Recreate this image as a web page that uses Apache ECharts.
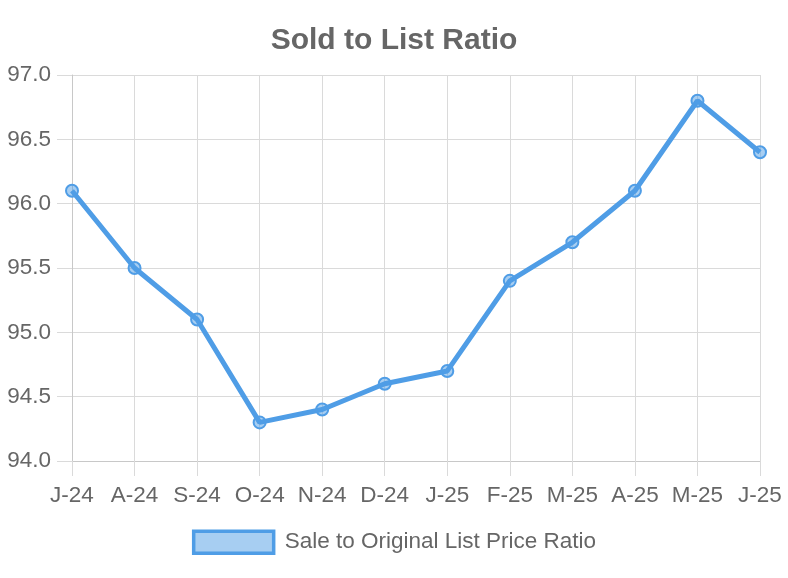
<!DOCTYPE html>
<html>
<head>
<meta charset="utf-8">
<script src="https://cdn.jsdelivr.net/npm/echarts@6/dist/echarts.min.js"></script>
<style>
  html, body { margin: 0; padding: 0; background: #fff; }
  #chart { width: 788px; height: 578px; }
</style>
</head>
<body>
<div id="chart"></div>
<script>
const months = ['J-24', 'A-24', 'S-24', 'O-24', 'N-24', 'D-24', 'J-25', 'F-25', 'M-25', 'A-25', 'M-25', 'J-25'];
const ratio = [96.1, 95.5, 95.1, 94.3, 94.4, 94.6, 94.7, 95.4, 95.7, 96.1, 96.8, 96.4];
const seriesName = 'Sale to Original List Price Ratio';

const lineColor = '#4f9de6';
const font = 'Arial, "Liberation Sans", sans-serif';

const chart = echarts.init(document.getElementById('chart'));

chart.setOption({
  animation: false,
  title: {
    text: 'Sold to List Ratio',
    left: 'center',
    top: 21,
    textStyle: { fontFamily: font, fontSize: 30, fontWeight: 'bold', color: '#666' }
  },
  legend: {
    bottom: 18,
    left: 'center',
    icon: 'rect',
    itemWidth: 80,
    itemHeight: 22,
    itemGap: 10,
    data: [seriesName],
    itemStyle: { color: 'rgba(79,157,230,0.5)', borderColor: lineColor, borderWidth: 3.5 },
    textStyle: { fontFamily: font, fontSize: 22.5, color: '#666', padding: [0, 0, 0, 6] }
  },
  grid: {
    left: 72,
    right: 28,
    top: 75,
    bottom: 117
  },
  xAxis: {
    type: 'category',
    data: months,
    boundaryGap: false,
    axisLine: { lineStyle: { color: '#c8c8c8' } },
    axisTick: { show: true, length: 15, lineStyle: { color: '#dadada' } },
    splitLine: { show: true, lineStyle: { color: '#dadada' } },
    axisLabel: { interval: 0, margin: 23, fontFamily: font, fontSize: 22.5, color: '#666' }
  },
  yAxis: {
    type: 'value',
    min: 94,
    max: 97,
    interval: 0.5,
    axisLine: { show: true, lineStyle: { color: '#c8c8c8' } },
    axisTick: { show: true, length: 15, lineStyle: { color: '#dadada' } },
    splitLine: { lineStyle: { color: '#dadada' } },
    axisLabel: {
      margin: 21,
      fontFamily: font,
      fontSize: 22.5,
      color: '#666',
      formatter: v => v.toFixed(1)
    }
  },
  series: [
    {
      name: seriesName,
      type: 'line',
      data: ratio,
      symbol: 'circle',
      symbolSize: 12,
      showAllSymbol: true,
      lineStyle: { color: lineColor, width: 5 },
      itemStyle: { color: 'rgba(79,157,230,0.5)', borderColor: lineColor, borderWidth: 2 }
    }
  ]
});
</script>
</body>
</html>
